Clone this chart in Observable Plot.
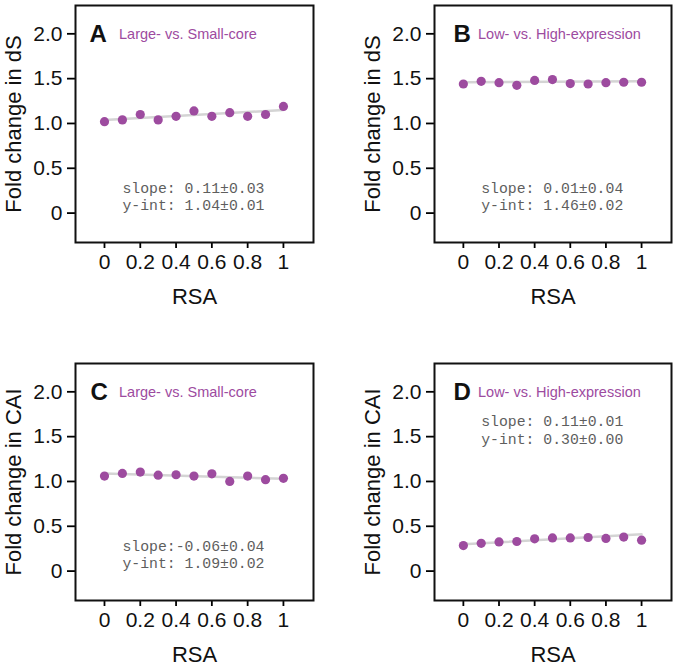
<!DOCTYPE html>
<html>
<head>
<meta charset="utf-8">
<script src="https://cdn.jsdelivr.net/npm/d3@7"></script>
<script src="https://cdn.jsdelivr.net/npm/@observablehq/plot@0.6"></script>
<style>
  html, body { margin: 0; padding: 0; background: #fff; width: 676px; height: 668px; overflow: hidden; }
  .panel { position: absolute; }
  .panel svg { display: block; font-family: "Liberation Sans", Arial, sans-serif; }
</style>
</head>
<body>
<div id="pA" class="panel" style="left:0px; top:0px;"></div>
<div id="pB" class="panel" style="left:359px; top:0px;"></div>
<div id="pC" class="panel" style="left:0px; top:358px;"></div>
<div id="pD" class="panel" style="left:359px; top:358px;"></div>
<script>
// ---- data ----
const rsa = [0, 0.1, 0.2, 0.3, 0.4, 0.5, 0.6, 0.7, 0.8, 0.9, 1.0];
const xTicks = [0, 0.2, 0.4, 0.6, 0.8, 1];
const yTicks = [0, 0.5, 1.0, 1.5, 2.0];

const dsLargeSmall    = [1.02, 1.04, 1.10, 1.04, 1.08, 1.14, 1.08, 1.12, 1.08, 1.10, 1.19];
const dsLargeSmallErr = [0.01, 0.01, 0.01, 0.01, 0.01, 0.01, 0.01, 0.01, 0.01, 0.015, 0.03];
const dsLowHigh       = [1.44, 1.47, 1.455, 1.425, 1.48, 1.49, 1.445, 1.44, 1.455, 1.46, 1.46];
const dsLowHighErr    = [0.01, 0.01, 0.01, 0.01, 0.01, 0.01, 0.01, 0.01, 0.015, 0.035, 0.04];
const caiLargeSmall    = [1.06, 1.09, 1.105, 1.07, 1.075, 1.06, 1.085, 1.0, 1.06, 1.02, 1.035];
const caiLargeSmallErr = [0.01, 0.01, 0.01, 0.01, 0.01, 0.01, 0.01, 0.01, 0.01, 0.03, 0.04];
const caiLowHigh       = [0.285, 0.31, 0.325, 0.33, 0.36, 0.37, 0.37, 0.375, 0.365, 0.38, 0.345];
const caiLowHighErr    = [0.005, 0.005, 0.005, 0.005, 0.005, 0.005, 0.005, 0.005, 0.005, 0.01, 0.015];

const slopes     = [0.11, 0.01, -0.06, 0.11];
const intercepts = [1.04, 1.46, 1.09, 0.30];
const statLines = [
  ["slope: 0.11±0.03", "y-int: 1.04±0.01"],
  ["slope: 0.01±0.04", "y-int: 1.46±0.02"],
  ["slope:-0.06±0.04", "y-int: 1.09±0.02"],
  ["slope: 0.11±0.01", "y-int: 0.30±0.00"]
];
const statY = [[0.28, 0.09], [0.28, 0.09], [0.28, 0.09], [1.67, 1.475]];
const letters = ["A", "B", "C", "D"];
const titles = ["Large- vs. Small-core", "Low- vs. High-expression", "Large- vs. Small-core", "Low- vs. High-expression"];
const yLabels = ["Fold change in dS", "Fold change in dS", "Fold change in CAI", "Fold change in CAI"];
const series = [dsLargeSmall, dsLowHigh, caiLargeSmall, caiLowHigh];
const seriesErr = [dsLargeSmallErr, dsLowHighErr, caiLargeSmallErr, caiLowHighErr];

// ---- drawing ----
const purple = "#9d4b9f";
const ids = ["pA", "pB", "pC", "pD"];
const widths = [338, 317, 338, 317];
const rights = [25, 5, 25, 5];
const letterDx = [14, 19, 15, 19];

function fmtY(d) { return d === 0 ? "0" : d.toFixed(1); }
function fmtX(d) { return String(d); }

for (let i = 0; i < 4; i++) {
  const pts = rsa.map((x, k) => ({x, y: series[i][k], lo: series[i][k] - seriesErr[i][k], hi: series[i][k] + seriesErr[i][k]}));
  const fit = [0, 1].map(x => ({x, y: intercepts[i] + slopes[i] * x}));
  const stats = statLines[i].map((t, k) => ({t, y: statY[i][k]}));
  const chart = Plot.plot({
    width: widths[i],
    height: 310,
    marginTop: 5,
    marginLeft: 75,
    marginRight: rights[i],
    marginBottom: 68,
    style: {fontFamily: "Liberation Sans, Arial, sans-serif", background: "white"},
    x: {domain: [-0.162, 1.168]},
    y: {domain: [-0.328, 2.316]},
    marks: [
      Plot.axisY({ticks: yTicks, tickFormat: fmtY, tickSize: 8, tickPadding: 5, fontSize: 21, strokeWidth: 1.8, label: null, fill: "#111"}),
      Plot.axisX({ticks: xTicks, tickFormat: fmtX, tickSize: 6, tickPadding: 6, fontSize: 21, strokeWidth: 1.8, label: null, fill: "#111"}),
      Plot.line(fit, {x: "x", y: "y", stroke: "#d4d4d4", strokeWidth: 2.5}),
      Plot.ruleX(pts, {x: "x", y1: "lo", y2: "hi", stroke: purple, strokeWidth: 2}),
      Plot.dot(pts, {x: "x", y: "y", r: 4.6, fill: purple, stroke: "none"}),
      Plot.text(stats, {x: 0.1, y: "y", text: "t", textAnchor: "start", fontFamily: "Liberation Mono, Courier New, monospace", fontSize: 14.8, fill: "#5e5e5e"}),
      Plot.text([letters[i]], {frameAnchor: "top-left", dx: letterDx[i], dy: 29, text: d => d, textAnchor: "start", lineAnchor: "middle", fontSize: 24, fontWeight: "bold", fill: "#111"}),
      Plot.text([titles[i]], {frameAnchor: "top-left", dx: 43.5, dy: 29, text: d => d, textAnchor: "start", lineAnchor: "middle", fontSize: 14.5, fill: purple}),
      Plot.text([yLabels[i]], {frameAnchor: "left", dx: -62, text: d => d, rotate: -90, textAnchor: "middle", lineAnchor: "middle", fontSize: 22, fill: "#111"}),
      Plot.text(["RSA"], {frameAnchor: "bottom", dy: 54, text: d => d, textAnchor: "middle", lineAnchor: "middle", fontSize: 22, fill: "#111"}),
      Plot.frame({stroke: "#111", strokeWidth: 2})
    ]
  });
  document.getElementById(ids[i]).appendChild(chart);
}
</script>
</body>
</html>
